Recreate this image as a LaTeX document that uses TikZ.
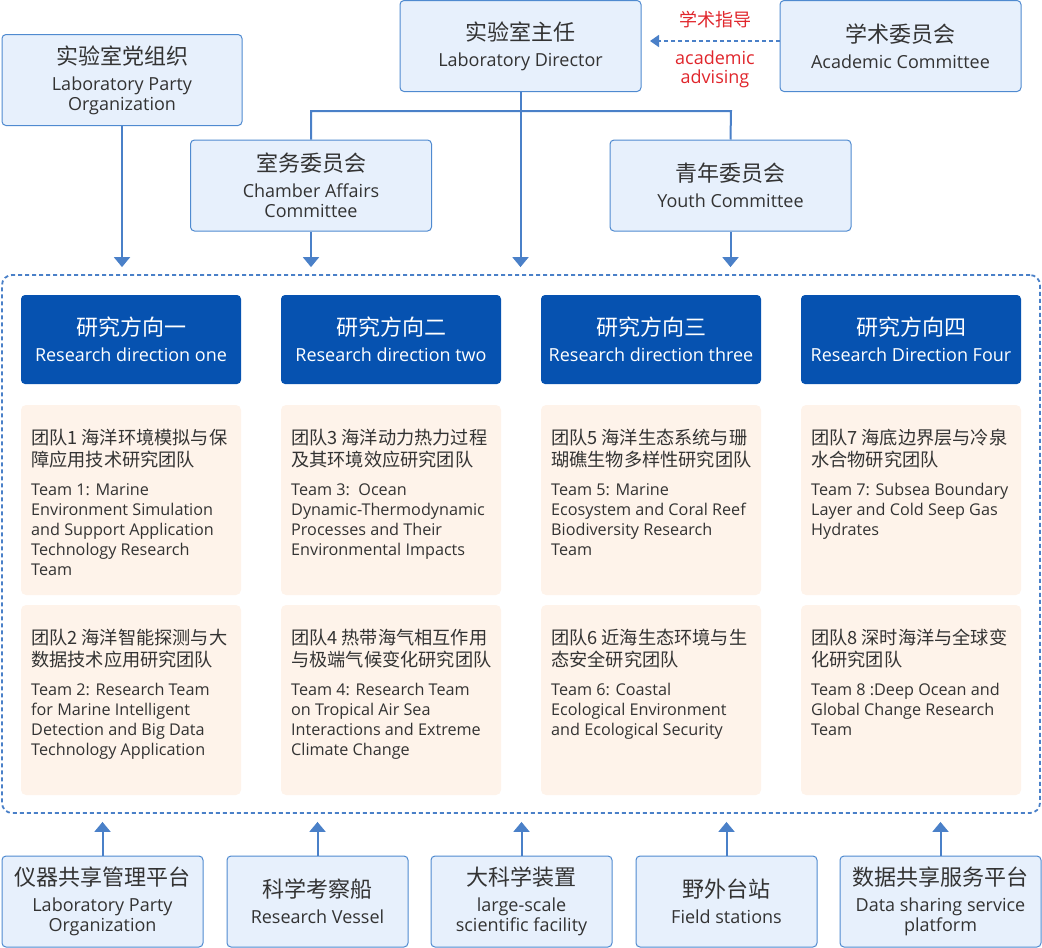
\documentclass[tikz,border=0pt]{standalone}
\usepackage{fontspec}
\setmainfont{Open Sans}
\newfontfamily\cjk{Noto Sans CJK SC}
\usetikzlibrary{arrows.meta,calc}
\definecolor{bfill}{HTML}{E7F0FC}
\definecolor{bborder}{HTML}{4F8AD0}
\definecolor{lineblue}{HTML}{4A80C8}
\definecolor{dark}{HTML}{0652B0}
\definecolor{peach}{HTML}{FEF3EA}
\definecolor{txt}{HTML}{333333}
\definecolor{redtxt}{HTML}{E0262C}
\tikzset{
  bluebox/.style={draw=bborder, fill=bfill, line width=1pt, rounded corners=4pt,
    minimum height=91pt, align=center, inner sep=0pt, text=txt,
    font=\fontsize{18}{20}\selectfont},
  dirbox/.style={fill=dark, rounded corners=4pt, minimum width=220pt,
    minimum height=89pt, align=center, inner sep=0pt, text=white,
    font=\fontsize{18}{20}\selectfont},
  teambox/.style={fill=peach, rounded corners=5pt, minimum width=220pt,
    minimum height=190pt, inner sep=0pt},
  teamtxt/.style={anchor=north west, inner sep=0pt, align=left, text=txt,
    font=\fontsize{16.2}{20}\selectfont},
  arr/.style={draw=lineblue, line width=2pt, -{Triangle[width=16pt,length=10pt]}},
  conn/.style={draw=lineblue, line width=2pt},
  dasharr/.style={draw=lineblue, line width=1.8pt, dash pattern=on 4pt off 3pt,
    -{Triangle[width=12pt,length=9pt]}},
  redlab/.style={text=redtxt, inner sep=0pt, align=center,
    font=\fontsize{18}{19}\selectfont},
}
\newcommand\zh[1]{{\cjk\fontsize{22}{26}\selectfont #1}}
\newcommand\tz[1]{{\cjk\fontsize{18.2}{22}\selectfont #1}}
\begin{document}
\begin{tikzpicture}[x=1pt,y=-1pt]
\useasboundingbox (0,0) rectangle (1042,948);

% top level boxes
\node[bluebox, minimum width=240pt] (party) at (122,80) {\zh{实验室党组织}\\[6pt]Laboratory Party\\Organization};
\node[bluebox, minimum width=241pt] (dir) at (520.5,46) {\zh{实验室主任}\\[6pt]Laboratory Director};
\node[bluebox, minimum width=241pt] (acad) at (900.5,46) {\zh{学术委员会}\\[6pt]Academic Committee};
\node[bluebox, minimum width=241pt] (chamber) at (311,185.5) {\zh{室务委员会}\\[6pt]Chamber Affairs\\Committee};
\node[bluebox, minimum width=241pt] (youth) at (730.5,185.5) {\zh{青年委员会}\\[6pt]Youth Committee};

% academic advising
\coordinate (aa) at (780,41);
\coordinate (ab) at (650,41);
\draw[dasharr] (aa) -- (ab);
\node[redlab] (advcn) at (715,20) {{\cjk 学术指导}};
\node[redlab] (adven) at (715,69) {academic\\advising};

% dashed frame
\node[draw=lineblue, line width=1.8pt, dash pattern=on 4pt off 3pt, rounded corners=10pt,
  minimum width=1038pt, minimum height=538pt, inner sep=0pt] (frame) at (521,544) {};

% connectors from top
\coordinate (hl) at (311,111);
\coordinate (hr) at (731,111);
\draw[conn] (chamber.north) -- (hl) -- (hr) -- (youth.north);
\draw[arr, shorten >=7pt] (dir.south) -- (dir.south |- frame.north);
\draw[arr, shorten >=7pt] (party.south) -- (party.south |- frame.north);
\draw[arr, shorten >=7pt] (chamber.south) -- (chamber.south |- frame.north);
\draw[arr, shorten >=7pt] (youth.south) -- (youth.south |- frame.north);

% research directions
\node[dirbox] (d1) at (131,339.5) {\zh{研究方向一}\\[6pt]Research direction one};
\node[dirbox] (d2) at (391,339.5) {\zh{研究方向二}\\[6pt]Research direction two};
\node[dirbox] (d3) at (651,339.5) {\zh{研究方向三}\\[6pt]Research direction three};
\node[dirbox] (d4) at (911,339.5) {\zh{研究方向四}\\[6pt]Research Direction Four};

% team boxes
\node[teambox] (t1) at (131,500) {};
\node[teambox] (t3) at (391,500) {};
\node[teambox] (t5) at (651,500) {};
\node[teambox] (t7) at (911,500) {};
\node[teambox] (t2) at (131,700) {};
\node[teambox] (t4) at (391,700) {};
\node[teambox] (t6) at (651,700) {};
\node[teambox] (t8) at (911,700) {};

\node[teamtxt] (t1x) at (31,429) {\tz{团队1 海洋环境模拟与保}\\[2pt]\tz{障应用技术研究团队}\\[9pt]Team 1: Marine\\Environment Simulation\\and Support Application\\Technology Research\\Team};
\node[teamtxt] (t3x) at (291,429) {\tz{团队3 海洋动力热力过程}\\[2pt]\tz{及其环境效应研究团队}\\[9pt]Team 3:\ \ Ocean\\Dynamic-Thermodynamic\\Processes and Their\\Environmental Impacts};
\node[teamtxt] (t5x) at (551,429) {\tz{团队5 海洋生态系统与珊}\\[2pt]\tz{瑚礁生物多样性研究团队}\\[9pt]Team 5: Marine\\Ecosystem and Coral Reef\\Biodiversity Research\\Team};
\node[teamtxt] (t7x) at (811,429) {\tz{团队7 海底边界层与冷泉}\\[2pt]\tz{水合物研究团队}\\[9pt]Team 7: Subsea Boundary\\Layer and Cold Seep Gas\\Hydrates};
\node[teamtxt] (t2x) at (31,629) {\tz{团队2 海洋智能探测与大}\\[2pt]\tz{数据技术应用研究团队}\\[9pt]Team 2: Research Team\\for Marine Intelligent\\Detection and Big Data\\Technology Application};
\node[teamtxt] (t4x) at (291,629) {\tz{团队4 热带海气相互作用}\\[2pt]\tz{与极端气候变化研究团队}\\[9pt]Team 4: Research Team\\on Tropical Air Sea\\Interactions and Extreme\\Climate Change};
\node[teamtxt] (t6x) at (551,629) {\tz{团队6 近海生态环境与生}\\[2pt]\tz{态安全研究团队}\\[9pt]Team 6: Coastal\\Ecological Environment\\and Ecological Security};
\node[teamtxt] (t8x) at (811,629) {\tz{团队8 深时海洋与全球变}\\[2pt]\tz{化研究团队}\\[9pt]Team 8 :Deep Ocean and\\Global Change Research\\Team};

% bottom platforms
\node[bluebox, minimum width=201pt] (b1) at (102.5,901.5) {\zh{仪器共享管理平台}\\[6pt]Laboratory Party\\Organization};
\node[bluebox, minimum width=181pt] (b2) at (317.5,901.5) {\zh{科学考察船}\\[6pt]Research Vessel};
\node[bluebox, minimum width=181pt] (b3) at (521.5,901.5) {\zh{大科学装置}\\[6pt]large-scale\\scientific facility};
\node[bluebox, minimum width=181pt] (b4) at (726.5,901.5) {\zh{野外台站}\\[6pt]Field stations};
\node[bluebox, minimum width=201pt] (b5) at (940.5,901.5) {\zh{数据共享服务平台}\\[6pt]Data sharing service\\platform};

\foreach \b in {b1,b2,b3,b4,b5}
  \draw[arr, shorten >=8pt] (\b.north) -- (\b.north |- frame.south);
\end{tikzpicture}
\end{document}
